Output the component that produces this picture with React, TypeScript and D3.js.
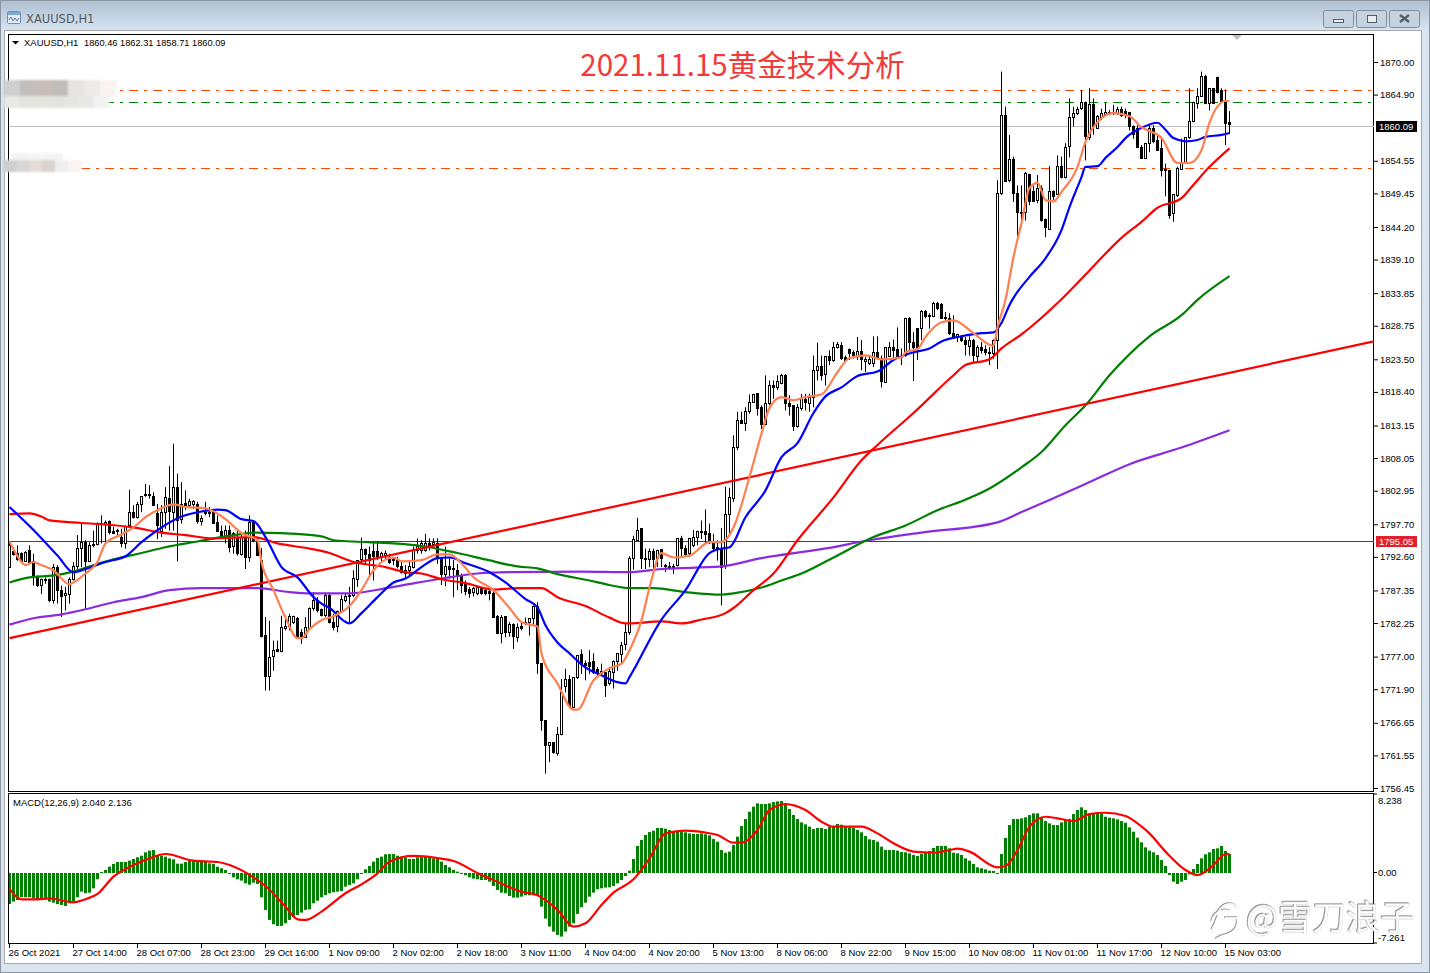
import { useEffect, useRef } from 'react';
import * as d3 from 'd3';

// [open, high, low, close], one row per H1 bar
const barsOct26 = [
  [1790.9,1794.9,1790.9,1794.4],[1793.5,1794.1,1792.8,1793.1],[1793.1,1794.4,1792.0,1792.1],[1793.2,1793.3,1791.8,1792.0],
  [1791.9,1793.5,1791.8,1793.3],[1793.6,1794.4,1791.5,1791.8],[1791.8,1793.1,1788.1,1789.4],[1789.4,1789.7,1787.9,1788.1],
  [1788.2,1789.2,1786.8,1789.1],[1789.0,1789.4,1788.4,1788.9],[1789.1,1789.2,1785.5,1785.8],[1785.8,1791.5,1785.3,1790.9],
  [1790.9,1791.3,1785.3,1787.3],[1787.4,1788.1,1783.2,1786.4],[1786.5,1787.9,1784.2,1786.8],[1786.8,1789.4,1785.3,1789.1],
  [1789.0,1791.8,1788.9,1791.1],[1791.1,1796.0,1790.7,1793.9],[1793.9,1798.0,1791.0,1794.9],[1794.9,1795.2,1784.5,1791.9],
  [1791.9,1794.9,1791.8,1794.4],[1794.4,1796.7,1794.1,1794.6],[1794.5,1798.0,1794.4,1797.8],[1797.8,1799.1,1794.7,1797.7],
  [1797.7,1798.3,1794.9,1798.0],[1798.2,1798.3,1796.1,1796.5],[1796.6,1797.3,1796.2,1796.3],[1796.7,1797.0,1796.0,1796.5],
  [1795.6,1797.0,1794.1,1794.7],[1794.7,1797.5,1793.9,1797.3],[1797.5,1803.1,1797.3,1799.5],[1799.5,1800.7,1798.6,1798.7],
  [1798.7,1801.2,1798.6,1800.8],[1800.8,1802.1,1799.6,1802.1],[1802.1,1804.0,1802.0,1802.3],[1802.3,1803.8,1801.7,1802.1],
  [1802.1,1802.7,1800.7,1800.7],[1799.4,1800.9,1795.4,1797.5],[1796.7,1800.7,1795.7,1799.6],[1799.6,1803.5,1797.0,1801.9],
];
const barsOct28 = [
  [1801.7,1806.8,1796.7,1799.6],[1799.6,1810.3,1796.7,1803.5],[1803.5,1805.6,1791.9,1798.3],[1798.4,1804.3,1797.8,1800.8],
  [1801.0,1803.0,1799.9,1800.7],[1800.7,1801.7,1800.4,1801.3],[1800.8,1801.5,1800.1,1801.3],[1800.8,1801.2,1797.8,1798.2],
  [1798.2,1799.1,1797.5,1798.6],[1799.6,1801.2,1799.1,1799.5],[1799.6,1800.4,1798.8,1799.5],[1799.6,1800.1,1797.8,1797.9],
  [1798.0,1799.1,1796.5,1796.6],[1796.6,1797.5,1795.7,1796.0],[1795.7,1797.5,1794.7,1796.8],[1796.8,1797.5,1793.3,1794.1],
  [1794.1,1796.5,1793.1,1796.2],[1795.7,1797.0,1792.8,1793.2],[1793.1,1796.2,1792.8,1795.7],[1795.7,1796.7,1790.7,1792.6],
  [1792.5,1799.1,1791.8,1798.0],[1798.0,1798.3,1794.9,1795.2],[1794.9,1795.7,1792.7,1792.8],[1792.0,1794.0,1780.0,1780.1],
  [1780.3,1783.2,1771.7,1773.9],[1773.9,1782.6,1771.7,1776.9],[1776.9,1779.5,1774.8,1777.9],[1778.1,1779.5,1777.7,1777.8],
  [1777.8,1783.4,1777.7,1781.5],[1781.4,1783.4,1781.1,1781.7],[1781.6,1783.7,1781.1,1783.2],[1782.4,1783.4,1782.1,1783.3],
  [1782.9,1783.2,1779.8,1779.8],[1780.8,1781.3,1779.0,1779.8],[1779.9,1783.2,1779.9,1781.5],[1781.3,1784.7,1781.3,1784.5],
  [1784.5,1787.1,1784.2,1785.8],[1785.8,1786.3,1783.9,1784.2],[1784.4,1784.5,1783.3,1783.5],[1783.5,1786.8,1783.2,1786.6],
];
const barsNov1 = [
  [1786.6,1786.8,1782.2,1782.3],[1782.4,1783.7,1781.1,1781.6],[1781.6,1784.2,1780.8,1784.0],[1784.0,1786.6,1784.0,1785.9],
  [1785.8,1786.8,1785.5,1786.4],[1786.4,1787.9,1782.4,1786.6],[1786.6,1790.5,1786.3,1789.2],[1789.2,1792.1,1787.9,1792.1],
  [1792.1,1795.6,1791.5,1793.7],[1793.7,1793.9,1791.5,1792.9],[1793.0,1794.2,1789.7,1792.1],[1793.4,1794.8,1788.9,1792.6],
  [1793.5,1794.8,1792.1,1792.5],[1792.5,1793.4,1791.8,1793.1],[1792.9,1793.6,1792.1,1793.2],[1792.2,1793.1,1791.5,1791.7],
  [1792.2,1792.6,1791.3,1792.0],[1792.1,1792.6,1790.8,1791.1],[1791.1,1791.8,1790.0,1790.1],[1790.0,1791.3,1789.2,1790.5],
  [1790.5,1791.8,1789.7,1791.1],[1790.9,1794.2,1790.8,1793.6],[1793.5,1795.5,1793.1,1794.2],[1793.6,1795.2,1793.1,1794.7],
  [1793.6,1796.2,1793.4,1794.7],[1794.7,1795.5,1793.6,1794.4],[1794.5,1795.5,1794.2,1794.8],[1794.7,1795.5,1791.5,1792.3],
  [1792.3,1792.6,1788.2,1789.8],[1789.9,1794.2,1788.0,1791.1],[1791.1,1792.6,1789.2,1790.6],[1790.8,1792.1,1786.3,1790.6],
  [1790.5,1791.5,1787.4,1789.6],[1789.6,1790.0,1786.9,1788.2],[1788.3,1788.9,1786.6,1787.2],[1787.5,1787.9,1786.2,1786.9],
  [1786.9,1787.9,1786.4,1787.6],[1786.9,1787.9,1786.6,1787.8],[1787.8,1787.9,1786.7,1786.9],[1787.4,1787.6,1786.6,1786.9],
];
const barsNov3 = [
  [1787.2,1787.4,1785.8,1786.9],[1786.9,1787.2,1783.1,1783.2],[1783.2,1783.5,1780.5,1780.5],[1780.6,1783.5,1779.1,1783.1],
  [1783.2,1783.2,1780.0,1780.7],[1780.8,1782.4,1780.1,1782.0],[1782.0,1782.2,1778.2,1780.1],[1780.1,1782.2,1779.3,1781.6],
  [1781.7,1782.4,1781.1,1781.4],[1782.4,1783.1,1781.9,1782.2],[1782.2,1782.9,1780.3,1782.9],[1782.9,1785.0,1781.9,1784.8],
  [1784.8,1785.5,1774.3,1775.9],[1775.9,1775.9,1765.4,1767.0],[1767.0,1767.0,1758.7,1763.1],[1763.1,1763.6,1760.5,1763.5],
  [1763.5,1763.6,1761.8,1761.9],[1761.9,1766.0,1761.5,1764.8],[1764.8,1773.5,1764.7,1771.4],[1772.3,1775.1,1771.4,1773.4],
  [1773.4,1774.1,1769.0,1769.1],[1769.1,1773.8,1769.0,1773.8],[1773.7,1777.2,1773.5,1777.2],[1777.4,1778.1,1774.3,1775.9],
  [1775.9,1776.4,1773.3,1775.6],[1776.1,1778.0,1774.3,1775.4],[1776.3,1777.5,1774.3,1774.6],[1775.0,1775.4,1773.8,1774.4],
  [1774.3,1775.9,1774.1,1774.6],[1774.5,1774.6,1770.7,1772.5],[1772.7,1775.4,1772.5,1774.6],[1774.6,1776.4,1772.0,1776.3],
  [1776.2,1777.5,1774.8,1777.5],[1777.4,1779.3,1775.9,1778.8],[1778.8,1782.2,1778.0,1780.7],[1780.7,1792.7,1780.4,1792.3],
  [1792.3,1795.9,1790.6,1795.3],[1795.3,1798.7,1795.2,1796.8],[1797.0,1797.0,1790.7,1792.3],[1792.3,1793.9,1790.7,1792.1],
];
const barsNov4 = [
  [1792.3,1793.9,1791.0,1793.5],[1793.5,1793.9,1790.7,1792.3],[1792.3,1793.7,1791.0,1793.6],[1793.7,1793.7,1791.0,1792.3],
  [1791.2,1791.5,1790.2,1791.1],[1791.1,1791.8,1790.6,1791.0],[1791.1,1791.5,1789.9,1791.0],[1791.2,1795.4,1791.1,1795.4],
  [1795.4,1795.9,1792.6,1793.9],[1793.9,1794.4,1792.6,1793.0],[1793.0,1795.6,1792.6,1795.4],[1794.4,1796.8,1794.1,1795.7],
  [1795.7,1796.7,1794.4,1796.6],[1796.6,1798.3,1795.4,1796.5],[1796.6,1800.0,1794.6,1796.2],[1796.2,1797.8,1794.6,1794.9],
  [1794.9,1796.2,1793.6,1794.0],[1794.1,1795.2,1792.0,1793.8],[1793.9,1797.1,1785.0,1791.0],[1791.0,1803.6,1790.7,1799.2],
  [1799.2,1803.4,1795.9,1801.9],[1801.7,1811.6,1801.2,1809.7],[1809.7,1815.3,1809.3,1814.0],[1814.0,1815.3,1813.4,1813.6],
  [1813.6,1816.0,1812.3,1815.4],[1815.4,1818.0,1815.0,1816.8],[1816.8,1818.1,1816.7,1818.0],[1818.2,1818.2,1814.7,1815.8],
  [1815.9,1816.3,1812.6,1813.3],[1813.3,1821.0,1813.2,1816.6],[1816.6,1820.2,1816.3,1819.4],[1819.4,1820.2,1817.3,1819.1],
  [1819.1,1821.0,1818.7,1820.0],[1819.8,1821.2,1819.6,1821.0],[1821.0,1821.2,1815.5,1816.6],[1816.6,1817.9,1814.7,1816.2],
  [1816.3,1816.3,1812.3,1813.0],[1813.0,1816.5,1812.8,1815.9],[1815.8,1818.1,1815.5,1817.4],[1817.2,1818.1,1815.5,1816.7],
];
const barsNov8 = [
  [1816.7,1818.1,1815.3,1817.6],[1817.6,1824.1,1816.0,1821.8],[1821.7,1826.1,1820.2,1822.4],[1822.4,1824.1,1820.2,1821.0],
  [1821.2,1824.0,1819.4,1824.0],[1823.9,1824.9,1822.6,1823.3],[1823.4,1826.2,1823.1,1825.4],[1825.4,1826.2,1825.2,1825.8],
  [1825.7,1826.2,1823.4,1823.6],[1823.8,1824.1,1823.4,1823.4],[1825.0,1825.2,1823.4,1824.3],[1824.5,1824.9,1823.6,1824.0],
  [1824.1,1827.0,1823.4,1824.7],[1824.7,1826.5,1821.8,1823.4],[1823.1,1823.9,1821.5,1823.4],[1822.8,1823.9,1822.6,1823.4],
  [1822.8,1827.1,1822.3,1824.5],[1824.5,1827.1,1823.6,1823.6],[1823.6,1824.1,1819.1,1820.0],[1820.0,1825.4,1820.0,1825.4],
  [1824.0,1826.2,1824.0,1825.4],[1825.4,1826.6,1823.6,1824.9],[1825.0,1828.5,1823.8,1823.8],[1823.9,1825.2,1822.6,1823.8],
  [1824.1,1830.0,1823.9,1829.9],[1829.9,1830.1,1824.9,1826.2],[1826.2,1827.8,1820.1,1825.4],[1828.3,1828.3,1823.4,1825.4],
  [1828.2,1831.2,1826.5,1830.9],[1830.9,1831.2,1829.9,1830.1],[1830.3,1830.7,1828.3,1830.1],[1830.3,1832.5,1830.1,1832.3],
  [1832.2,1832.5,1831.2,1831.4],[1832.1,1832.3,1829.9,1829.9],[1830.1,1830.9,1829.6,1829.9],[1829.9,1830.7,1827.3,1827.5],
  [1827.5,1830.4,1827.0,1827.1],[1827.1,1827.5,1826.2,1827.4],[1826.9,1827.3,1826.2,1826.4],[1826.4,1827.0,1824.1,1825.7],
];
const barsNov10 = [
  [1825.5,1827.1,1824.1,1826.4],[1826.4,1826.7,1822.9,1824.0],[1824.0,1825.7,1823.1,1825.4],[1825.4,1826.2,1824.4,1824.9],
  [1825.0,1825.7,1824.1,1824.5],[1824.5,1825.4,1822.6,1824.3],[1824.4,1826.6,1823.6,1826.5],[1826.5,1851.5,1822.0,1849.5],
  [1849.5,1868.5,1849.2,1861.7],[1861.7,1863.0,1851.2,1851.4],[1851.4,1858.6,1851.2,1854.7],[1854.7,1855.2,1848.1,1849.4],
  [1849.4,1850.7,1841.9,1846.4],[1846.5,1850.7,1844.2,1846.4],[1846.4,1852.8,1845.2,1852.5],[1852.4,1852.5,1847.6,1848.1],
  [1849.8,1850.7,1848.1,1848.3],[1848.4,1852.3,1847.9,1850.2],[1850.2,1850.7,1845.0,1845.2],[1845.3,1845.5,1842.6,1844.0],
  [1843.9,1853.7,1843.7,1849.8],[1849.8,1849.9,1848.4,1849.0],[1849.2,1855.4,1849.2,1853.6],[1853.7,1855.2,1851.8,1852.0],
  [1852.0,1857.3,1851.8,1856.7],[1856.8,1864.3,1855.1,1861.3],[1861.3,1863.0,1859.9,1862.0],[1862.0,1863.0,1861.7,1862.6],
  [1862.6,1865.6,1862.5,1863.6],[1863.6,1863.8,1854.6,1858.3],[1858.2,1865.9,1857.8,1863.4],[1863.4,1864.3,1858.6,1859.9],
  [1859.6,1861.7,1859.6,1861.4],[1861.4,1862.7,1860.9,1862.0],[1861.8,1863.6,1861.7,1862.1],[1862.1,1862.5,1861.7,1862.0],
  [1862.1,1863.3,1861.7,1862.0],[1862.0,1863.0,1861.7,1862.6],[1862.6,1863.0,1861.4,1861.7],[1862.2,1862.7,1861.2,1861.5],
];
const barsNov12 = [
  [1862.1,1862.2,1859.3,1859.9],[1859.9,1860.1,1858.0,1858.7],[1859.6,1860.1,1856.6,1856.7],[1856.7,1857.0,1854.9,1855.0],
  [1855.0,1857.3,1854.9,1857.3],[1857.3,1860.1,1855.9,1859.6],[1859.6,1860.1,1857.3,1857.5],[1857.8,1858.6,1856.2,1856.3],
  [1856.5,1858.3,1852.1,1853.0],[1853.2,1854.1,1849.0,1853.0],[1853.0,1853.1,1845.5,1845.9],[1846.3,1849.2,1845.0,1849.2],
  [1849.0,1853.6,1848.9,1853.3],[1853.3,1858.0,1853.2,1854.2],[1854.2,1858.2,1854.1,1858.2],[1858.2,1865.9,1858.0,1860.7],
  [1860.7,1863.8,1860.6,1863.6],[1863.5,1865.9,1862.7,1864.6],[1864.6,1868.5,1864.6,1867.7],[1867.8,1868.0,1863.4,1863.5],
  [1863.5,1865.9,1862.4,1865.9],[1865.9,1865.9,1863.5,1863.6],[1867.6,1867.7,1865.1,1865.3],[1865.5,1865.9,1863.6,1863.8],
  [1863.8,1865.7,1857.0,1860.4],[1860.46,1862.31,1858.71,1860.09],
];
const bars = [...barsOct26, ...barsOct28, ...barsNov1, ...barsNov3, ...barsNov4, ...barsNov8, ...barsNov10, ...barsNov12];

// moving averages: [bar number, price]
const maFast = [
  [0,1795.0],[2,1792.7],[4,1791.3],[6,1791.8],[8,1791.3],[11,1790.5],[15,1788.3],[16,1788.6],[19,1790.0],[22,1791.8],[24,1794.7],[28,1796.1],
  [31,1797.2],[34,1798.8],[38,1800.2],[41,1800.8],[44,1800.4],[49,1800.2],[54,1798.5],[58,1796.3],[62,1795.2],[63,1791.8],[66,1787.4],[69,1783.1],
  [72,1779.9],[73,1779.9],[75,1781.3],[78,1782.7],[81,1783.3],[85,1784.9],[88,1787.4],[91,1790.5],[96,1792.5],[98,1791.9],[103,1792.1],[107,1793.0],
  [110,1793.0],[113,1791.6],[116,1789.4],[121,1787.4],[125,1784.6],[128,1782.4],[132,1781.7],[133,1777.5],[137,1772.8],[141,1768.7],[142,1768.7],
  [146,1773.3],[148,1774.4],[150,1775.2],[153,1775.9],[155,1778.0],[158,1782.7],[160,1787.8],[163,1793.2],[166,1792.5],[170,1792.8],[175,1794.9],
  [178,1794.9],[181,1797.2],[185,1805.1],[188,1811.9],[190,1815.9],[193,1817.6],[196,1817.1],[199,1817.6],[203,1818.0],[207,1821.5],[210,1823.7],
  [214,1824.1],[218,1823.5],[223,1823.8],[224,1824.6],[227,1825.1],[229,1827.0],[233,1829.3],[236,1829.6],[241,1827.6],[246,1825.6],[247,1828.5],
  [249,1832.8],[251,1839.5],[253,1844.8],[255,1850.3],[257,1851.1],[259,1848.4],[261,1848.2],[263,1849.7],[267,1853.6],[269,1857.5],[273,1861.2],
  [276,1862.0],[280,1861.5],[283,1859.8],[288,1858.1],[292,1854.2],[295,1854.2],[298,1856.2],[300,1860.5],[304,1863.9],[305,1863.9],
];
const maBlue = [
  [0,1800.4],[6,1796.8],[12,1792.8],[16,1790.2],[19,1790.7],[24,1791.8],[29,1792.7],[33,1794.9],[38,1797.2],[43,1798.9],[48,1799.7],[52,1800.0],
  [54,1799.9],[58,1798.5],[61,1798.2],[64,1795.7],[68,1791.0],[72,1789.4],[76,1786.3],[78,1785.3],[80,1784.6],[85,1782.2],[88,1783.8],[92,1786.3],
  [96,1788.6],[99,1789.2],[103,1791.0],[107,1792.4],[110,1792.5],[114,1791.6],[120,1790.2],[124,1788.6],[129,1786.0],[132,1784.7],[134,1781.9],
  [137,1779.2],[140,1777.5],[144,1775.3],[148,1774.1],[152,1773.0],[154,1772.8],[155,1773.8],[163,1782.8],[169,1787.4],[175,1793.2],[178,1793.9],
  [180,1794.1],[184,1798.8],[189,1803.0],[193,1808.2],[197,1810.4],[201,1815.1],[204,1817.7],[208,1819.1],[212,1820.9],[217,1821.6],[221,1823.4],
  [226,1824.6],[230,1825.2],[233,1826.3],[238,1827.1],[243,1827.6],[246,1827.7],[248,1829.2],[250,1832.0],[251,1833.1],[255,1836.4],[259,1839.3],
  [263,1843.7],[265,1847.3],[268,1852.0],[269,1853.6],[272,1853.7],[274,1855.0],[277,1856.7],[279,1858.1],[283,1859.7],[287,1860.5],[289,1859.4],
  [291,1858.1],[294,1857.6],[297,1857.8],[299,1858.3],[303,1858.6],[305,1858.9],
];
const maRed = [
  [0,1799.3],[5,1799.4],[8,1798.9],[10,1798.3],[18,1797.9],[23,1797.7],[31,1797.2],[38,1796.4],[44,1796.0],[51,1795.5],[61,1795.7],[67,1794.7],
  [75,1793.9],[80,1793.2],[86,1791.8],[94,1791.0],[99,1790.2],[103,1790.0],[108,1789.1],[114,1788.5],[121,1787.5],[127,1787.7],[133,1787.7],
  [137,1786.3],[144,1784.9],[150,1783.1],[154,1782.2],[155,1782.2],[163,1782.5],[168,1782.2],[173,1782.8],[179,1783.8],[181,1784.6],[186,1787.4],
  [191,1790.0],[197,1795.2],[206,1801.9],[213,1807.7],[217,1810.1],[226,1815.1],[236,1821.0],[239,1822.6],[245,1823.5],[248,1825.2],[253,1827.4],
  [263,1832.9],[270,1837.4],[278,1842.5],[283,1845.0],[287,1847.2],[293,1848.7],[296,1850.8],[300,1853.6],[305,1856.5],
];
const maGreen = [
  [0,1788.6],[5,1789.4],[11,1789.7],[16,1790.3],[21,1791.3],[26,1792.2],[33,1793.2],[39,1794.1],[47,1795.0],[54,1795.8],[62,1796.4],[68,1796.3],
  [78,1795.8],[81,1795.2],[86,1795.0],[96,1794.7],[103,1794.3],[112,1793.2],[119,1792.2],[127,1791.1],[132,1790.8],[137,1789.9],[145,1788.9],
  [150,1788.2],[155,1787.7],[161,1787.7],[169,1787.1],[178,1786.7],[181,1786.9],[188,1787.8],[193,1788.9],[198,1790.0],[206,1792.5],[216,1795.7],
  [224,1797.5],[232,1799.9],[238,1801.3],[245,1803.3],[253,1806.6],[258,1809.0],[264,1813.2],[269,1816.3],[275,1821.0],[285,1827.1],[293,1830.4],
  [297,1832.8],[305,1836.5],
];
const maPurple = [
  [0,1782.0],[6,1783.0],[13,1783.6],[19,1784.4],[26,1785.5],[33,1786.3],[40,1787.4],[48,1787.7],[62,1787.7],[70,1787.1],[75,1786.9],[85,1786.9],
  [95,1787.8],[107,1789.1],[117,1790.0],[125,1790.2],[143,1790.3],[155,1790.2],[163,1790.7],[178,1791.1],[188,1792.4],[203,1793.8],[215,1795.2],
  [228,1796.4],[247,1798.0],[253,1799.6],[260,1801.5],[269,1804.0],[280,1807.1],[293,1809.7],[305,1812.4],
];
const trendLine = [[0,1779.9],[341.1,1826.3]];

const levelOrange = [1865.6, 1853.4];
const levelGreen = [1863.7];
const lastPrice = 1860.09;
const markedPrice = 1795.05;

const priceTicks = [1870.00,1864.90,1854.55,1849.45,1844.20,1839.10,1833.85,1828.75,1823.50,1818.40,1813.15,1808.05,1802.95,1797.70,1792.60,1787.35,1782.25,1777.00,1771.90,1766.65,1761.55,1756.45];

// MACD histogram, one value per bar
const macdOct = [
  -3.50,-3.23,-3.05,-2.74,-2.74,-2.74,-2.86,-2.93,-2.86,-2.97,-3.23,-3.35,-3.50,-3.61,-3.72,-3.42,-3.23,-2.74,-2.11,-2.29,
  -2.22,-1.73,-0.71,0.11,0.34,0.71,1.02,1.24,1.24,1.24,1.39,1.58,1.77,1.95,2.33,2.52,2.59,2.03,1.95,1.84,
  1.65,1.54,1.05,1.05,1.24,1.39,1.39,1.28,1.24,1.24,1.09,1.02,0.71,0.53,0.34,-0.04,-0.49,-0.71,-0.86,-1.17,
  -1.32,-1.09,-1.24,-2.74,-4.17,-5.30,-5.79,-5.98,-5.98,-5.68,-5.30,-5.00,-4.74,-4.47,-4.17,-4.10,-3.42,-3.12,-2.74,-2.48,
];
const macdNovA = [
  -2.29,-2.18,-2.11,-2.03,-1.54,-1.35,-1.17,-0.71,-0.04,0.41,0.79,1.28,1.69,1.84,2.11,2.14,2.14,1.95,1.84,1.73,
  1.58,1.58,1.77,1.80,1.80,1.73,1.65,1.58,1.28,0.90,0.64,0.34,0.15,-0.11,-0.26,-0.49,-0.64,-0.71,-0.79,-0.79,
  -0.98,-1.47,-1.92,-2.22,-2.29,-2.59,-2.78,-2.78,-2.67,-2.52,-2.52,-2.52,-2.59,-3.80,-5.15,-6.05,-6.62,-6.99,-7.18,-6.62,
  -6.05,-5.68,-4.62,-3.87,-3.35,-2.67,-2.22,-1.84,-1.73,-1.65,-1.62,-1.47,-1.17,-0.79,-0.34,0.26,1.58,3.05,3.72,4.29,
];
const macdNovB = [
  4.62,4.77,5.08,5.08,5.00,4.85,4.70,4.62,4.62,4.59,4.47,4.40,4.40,4.47,4.36,4.25,3.83,3.53,2.59,2.29,
  2.41,3.16,4.10,5.30,6.09,6.92,7.48,7.86,7.78,7.78,7.86,8.01,8.08,8.12,7.86,7.22,6.54,6.09,5.71,5.49,
  5.23,4.96,5.08,5.08,4.96,5.23,5.30,5.53,5.45,5.23,5.15,5.11,4.85,4.59,4.17,3.80,3.72,3.53,2.97,2.59,
  2.59,2.59,2.52,2.37,2.33,2.22,2.03,1.92,2.14,2.29,2.48,2.82,3.05,3.05,3.05,2.78,2.29,2.22,2.03,1.65,
];
const macdNovC = [
  1.39,1.02,0.64,0.53,0.41,0.26,0.23,-0.08,2.14,3.95,5.41,6.09,6.09,6.17,6.28,6.54,6.73,6.73,6.28,5.86,
  5.60,5.41,5.41,5.71,5.98,6.09,6.65,7.11,7.41,7.11,6.73,6.73,6.73,6.65,6.35,6.24,6.17,6.05,5.86,5.68,
  5.15,4.66,3.98,3.46,2.89,2.52,2.33,2.03,1.47,0.79,-0.23,-0.98,-1.24,-0.98,-0.79,-0.15,0.45,1.02,1.65,2.11,
  2.33,2.71,2.78,3.05,2.48,2.14,
];
const macdHist = [...macdOct, ...macdNovA, ...macdNovB, ...macdNovC];
// signal line: [bar number, value]
const macdSignal = [
  [0,-1.80],[3,-2.97],[7,-2.97],[10,-2.86],[16,-3.31],[19,-2.97],[22,-2.37],[26,-0.41],[31,0.90],[35,1.65],[39,2.14],[46,1.39],[52,1.24],[55,0.90],
  [61,-0.49],[64,-1.47],[69,-3.80],[72,-5.23],[74,-5.30],[78,-4.36],[84,-2.29],[88,-1.28],[92,-0.04],[95,1.28],[101,1.92],[107,1.69],[111,1.35],
  [118,-0.23],[120,-0.60],[128,-2.11],[132,-2.52],[137,-4.17],[141,-6.05],[144,-5.68],[148,-3.61],[151,-2.22],[156,-0.71],[160,1.65],[164,4.47],
  [169,4.77],[174,4.55],[177,4.29],[181,3.42],[183,3.42],[187,4.85],[190,7.11],[194,7.78],[199,7.11],[203,5.79],[206,5.23],[213,5.23],[217,4.47],
  [221,3.35],[226,2.41],[231,2.29],[235,2.59],[237,2.74],[240,2.41],[247,0.64],[249,0.79],[252,2.59],[255,5.23],[259,6.35],[262,6.17],[266,5.86],
  [270,6.65],[274,6.80],[279,6.43],[282,5.60],[285,4.47],[289,2.41],[294,0.34],[297,-0.23],[301,0.90],[304,2.14],[305,2.14],
];

const dateLabels = ['26 Oct 2021','27 Oct 14:00','28 Oct 07:00','28 Oct 23:00','29 Oct 16:00','1 Nov 09:00','2 Nov 02:00','2 Nov 18:00','3 Nov 11:00','4 Nov 04:00','4 Nov 20:00','5 Nov 13:00','8 Nov 06:00','8 Nov 22:00','9 Nov 15:00','10 Nov 08:00','11 Nov 01:00','11 Nov 17:00','12 Nov 10:00','15 Nov 03:00'];

const smudgeTop = ['#cfcfcf','#c3bebe','#c9bdb8','#c1bdbd','#e8e4e2','#eeeae8','#fbf3f0'];
const smudgeLow = ['#e6e9e6','#e0e5e0','#e1e6e0','#dfe4df','#e3e6e3','#e6e9e5','#f0f3ef'];
const smudgeTwoTop = ['#f2f3f3','#f4f5f5','#f3f4f4'];
const smudgeTwoLow = ['#cfcfcf','#d9d6d5','#e4dcd8','#d9d3d1','#eeeeee','#fbf3f0'];

const FONT = '"Liberation Sans", sans-serif';

const App = () => {
  const chartRef = useRef<SVGSVGElement>(null);

  useEffect(() => {
    if (!chartRef.current) return;
    const svg = d3.select(chartRef.current);
    svg.selectAll('*').remove();

    const width = 1430;
    const height = 973;
    svg.attr('width', width).attr('height', height);

    const defs = svg.append('defs');
    const grad = defs.append('linearGradient').attr('id', 'titleBar').attr('x1', 0).attr('x2', 0).attr('y1', 0).attr('y2', 1);
    grad.append('stop').attr('offset', '0%').attr('stop-color', '#aebfd1');
    grad.append('stop').attr('offset', '100%').attr('stop-color', '#d6e4f1');
    defs.append('filter').attr('id', 'blur').append('feGaussianBlur').attr('stdDeviation', 1.2);
    defs.append('filter').attr('id', 'emboss').append('feDropShadow')
      .attr('dx', -0.7).attr('dy', -0.7).attr('stdDeviation', 0.1).attr('flood-color', '#6a6a6a');
    defs.append('clipPath').attr('id', 'mainClip').append('rect').attr('x', 9).attr('y', 35).attr('width', 1365).attr('height', 756);
    defs.append('clipPath').attr('id', 'macdClip').append('rect').attr('x', 9).attr('y', 794).attr('width', 1365).attr('height', 149);

    // window chrome
    svg.append('rect').attr('width', width).attr('height', height).attr('fill', '#d8e5f1');
    svg.append('rect').attr('width', width).attr('height', 30).attr('fill', 'url(#titleBar)');
    svg.append('rect').attr('x', 0.5).attr('y', 0.5).attr('width', width - 1).attr('height', height - 1).attr('fill', 'none').attr('stroke', '#8b96a2');
    svg.append('rect').attr('x', 4.5).attr('y', 30.5).attr('width', 1417).attr('height', 933).attr('fill', '#fff').attr('stroke', '#a9a9a9');

    // title icon and caption
    svg.append('rect').attr('x', 7.5).attr('y', 11.5).attr('width', 13).attr('height', 12).attr('rx', 1).attr('fill', '#e3ecf6').attr('stroke', '#6d8fb4');
    svg.append('rect').attr('x', 8).attr('y', 12).attr('width', 12).attr('height', 3).attr('fill', '#7fa6cf');
    svg.append('path').attr('d', 'M9 20 L11 17 L13 21 L15 18 L17 21 L19 18').attr('fill', 'none').attr('stroke', '#5a7fa8');
    svg.append('text').attr('x', 26).attr('y', 23).attr('font-family', '"DejaVu Sans", sans-serif').attr('font-size', 11.5).attr('fill', '#4f5a66').text('XAUUSD,H1');

    // window buttons
    const btnG = svg.append('g');
    [1323.5, 1356.5, 1389.5].forEach((bx) => {
      btnG.append('rect').attr('x', bx).attr('y', 10.5).attr('width', 30).attr('height', 17).attr('rx', 2).attr('fill', '#c5d3e1').attr('stroke', '#7e8ea0');
    });
    btnG.append('rect').attr('x', 1333.5).attr('y', 19.5).attr('width', 10).attr('height', 3).attr('fill', '#e8edf2').attr('stroke', '#56606b');
    btnG.append('rect').attr('x', 1367.5).attr('y', 15.5).attr('width', 9).attr('height', 7).attr('fill', '#e8edf2').attr('stroke', '#56606b');
    btnG.append('path').attr('d', 'M1400 15 L1409 22 M1409 15 L1400 22').attr('stroke', '#56606b').attr('stroke-width', 2.4);

    // panes
    svg.append('rect').attr('x', 8.5).attr('y', 34.5).attr('width', 1365).attr('height', 757).attr('fill', '#fff').attr('stroke', '#000');
    svg.append('rect').attr('x', 8.5).attr('y', 793.5).attr('width', 1365).attr('height', 150).attr('fill', '#fff').attr('stroke', '#000');

    const xBar = d3.scaleLinear().domain([0, 305]).range([9.5, 1229.5]);
    const yPrice = d3.scaleLinear().domain([1756.45, 1870]).range([788, 62]);
    const yMacd = d3.scaleLinear().domain([-7.261, 8.238]).range([937.3, 800]);

    const main = svg.append('g').attr('clip-path', 'url(#mainClip)');
    const crisp = (v: number) => Math.round(v - 0.5) + 0.5;
    const lastY = crisp(yPrice(lastPrice) + 1);

    // horizontal levels
    levelOrange.forEach((p) => {
      main.append('line').attr('x1', 9).attr('x2', 1374).attr('y1', crisp(yPrice(p))).attr('y2', crisp(yPrice(p)))
        .attr('stroke', '#ff4500').attr('stroke-dasharray', '9 6 3 6');
    });
    levelGreen.forEach((p) => {
      main.append('line').attr('x1', 9).attr('x2', 1374).attr('y1', crisp(yPrice(p))).attr('y2', crisp(yPrice(p)))
        .attr('stroke', '#008000').attr('stroke-dasharray', '9 6 3 6');
    });
    main.append('line').attr('x1', 9).attr('x2', 1374).attr('y1', lastY).attr('y2', lastY).attr('stroke', '#c0c0c0');
    main.append('line').attr('x1', 9).attr('x2', 1374).attr('y1', crisp(yPrice(markedPrice))).attr('y2', crisp(yPrice(markedPrice))).attr('stroke', '#e0000a');

    // candles
    const candles = main.append('g').selectAll('g').data(bars).enter().append('g');
    candles.append('line')
      .attr('x1', (_, i) => xBar(i)).attr('x2', (_, i) => xBar(i))
      .attr('y1', (d) => yPrice(d[1])).attr('y2', (d) => yPrice(d[2]))
      .attr('stroke', '#000');
    candles.append('rect')
      .attr('x', (_, i) => xBar(i) - 1).attr('width', 2)
      .attr('y', (d) => crisp(yPrice(Math.max(d[0], d[3]))))
      .attr('height', (d) => Math.max(1, Math.round(Math.abs(yPrice(d[0]) - yPrice(d[3])))))
      .attr('fill', (d) => (d[3] >= d[0] ? '#fff' : '#000'))
      .attr('stroke', '#000');

    // averages and the trend line
    const priceLine = d3.line<number[]>().x((d) => xBar(d[0])).y((d) => yPrice(d[1])).curve(d3.curveMonotoneX);
    const series: [number[][], string][] = [
      [maPurple, '#8a2be2'], [maGreen, '#008000'], [maRed, '#ff0000'], [trendLine, '#ff0000'], [maBlue, '#0000ff'], [maFast, '#ff7f50'],
    ];
    series.forEach(([pts, color]) => {
      main.append('path').attr('d', priceLine(pts)).attr('fill', 'none').attr('stroke', color).attr('stroke-width', 2.2);
    });

    // blurred out labels
    const smudge = svg.append('g').attr('filter', 'url(#blur)');
    smudgeTop.forEach((c, i) => smudge.append('rect').attr('x', 4 + i * 16).attr('y', 80).attr('width', 16.5).attr('height', 16.5).attr('fill', c));
    smudgeLow.forEach((c, i) => smudge.append('rect').attr('x', 4 + i * 15).attr('y', 96).attr('width', 15.5).attr('height', 12).attr('fill', c));
    smudgeTwoTop.forEach((c, i) => smudge.append('rect').attr('x', 11 + i * 17).attr('y', 153).attr('width', 17.5).attr('height', 7.5).attr('fill', c));
    smudgeTwoLow.forEach((c, i) => smudge.append('rect').attr('x', 3 + i * 13).attr('y', 160).attr('width', 13.5).attr('height', 12).attr('fill', c));

    // price axis
    const axisG = svg.append('g').attr('transform', 'translate(1374,0)')
      .call(d3.axisRight(yPrice).tickValues(priceTicks).tickFormat((d) => d3.format('.2f')(d as number)).tickSize(4).tickPadding(2));
    axisG.select('.domain').remove();
    axisG.selectAll('text').attr('font-family', FONT).attr('font-size', 9.5).attr('fill', '#000');

    const priceTag = (yy: number, p: number, fill: string) => {
      svg.append('rect').attr('x', 1376).attr('y', yy - 5.5).attr('width', 41).attr('height', 11).attr('fill', fill);
      svg.append('text').attr('x', 1379).attr('y', yy + 3.5).attr('font-family', FONT).attr('font-size', 9.5).attr('fill', '#fff').text(d3.format('.2f')(p));
    };
    priceTag(lastY, lastPrice, '#000');
    priceTag(crisp(yPrice(markedPrice)), markedPrice, '#e0202a');

    // header texts
    svg.append('path').attr('d', 'M12 41 L19 41 L15.5 44.5 Z').attr('fill', '#000');
    svg.append('text').attr('x', 24).attr('y', 46).attr('font-family', FONT).attr('font-size', 9.5).attr('fill', '#000').text('XAUUSD,H1');
    svg.append('text').attr('x', 84).attr('y', 46).attr('font-family', FONT).attr('font-size', 9.25).attr('fill', '#000')
      .text(bars[305].map((v) => v.toFixed(2)).join(' '));
    svg.append('path').attr('d', 'M1232 35 L1242 35 L1237 40 Z').attr('fill', '#c0c0c0');
    svg.append('text').attr('x', 742.5).attr('y', 76).attr('text-anchor', 'middle')
      .attr('font-family', '"Noto Sans CJK SC", sans-serif').attr('font-size', 29.5).attr('fill', '#f23a3a').text('2021.11.15黄金技术分析');

    // MACD pane
    const macdG = svg.append('g').attr('clip-path', 'url(#macdClip)');
    macdG.selectAll('rect.hist').data(macdHist).enter().append('rect').attr('class', 'hist')
      .attr('x', (_, i) => xBar(i) - 1.5).attr('width', 3)
      .attr('y', (d) => Math.min(yMacd(d), yMacd(0)))
      .attr('height', (d) => Math.max(1, Math.abs(yMacd(d) - yMacd(0))))
      .attr('fill', '#008000');
    const signalLine = d3.line<number[]>().x((d) => xBar(d[0])).y((d) => yMacd(d[1])).curve(d3.curveMonotoneX);
    macdG.append('path').attr('d', signalLine(macdSignal)).attr('fill', 'none').attr('stroke', '#ff0000').attr('stroke-width', 2.2);

    svg.append('text').attr('x', 13).attr('y', 806).attr('font-family', FONT).attr('font-size', 9.5).attr('fill', '#000').text('MACD(12,26,9) 2.040 2.136');
    const macdLabels: [string, number][] = [['8.238', 8.238], ['0.00', 0], ['-7.261', -7.261]];
    macdLabels.forEach(([t, v]) => {
      svg.append('text').attr('x', 1378).attr('y', yMacd(v) + 3.5).attr('font-family', FONT).attr('font-size', 9.5).attr('fill', '#000').text(t);
    });
    svg.append('line').attr('x1', 1374).attr('x2', 1377).attr('y1', crisp(yMacd(0))).attr('y2', crisp(yMacd(0))).attr('stroke', '#000');
    svg.append('line').attr('x1', 1374).attr('x2', 1377).attr('y1', 794).attr('y2', 794).attr('stroke', '#000');
    svg.append('line').attr('x1', 1374).attr('x2', 1377).attr('y1', 943).attr('y2', 943).attr('stroke', '#000');

    // time axis
    const timeAxis = svg.append('g');
    dateLabels.forEach((t, i) => {
      const tx = xBar(i * 16);
      timeAxis.append('line').attr('x1', tx).attr('x2', tx).attr('y1', 944).attr('y2', 948).attr('stroke', '#000');
      timeAxis.append('text').attr('x', tx - 1).attr('y', 956).attr('font-family', FONT).attr('font-size', 9.5).attr('fill', '#000').text(t);
    });

    // watermark, white with an embossed grey edge
    const wm = svg.append('g').attr('filter', 'url(#emboss)');
    wm.append('path')
      .attr('d', 'M1218 912 C1224 902 1234 902 1237 908 M1212 922 C1212 914 1222 908 1230 911 M1225 918 L1237 918 C1240 928 1232 934 1222 936 L1216 939 M1218 916 C1216 922 1214 926 1212 930')
      .attr('fill', 'none').attr('stroke', '#fff').attr('stroke-width', 1.4);
    wm.append('text').attr('x', 1246).attr('y', 930).attr('font-family', '"Noto Sans CJK SC", sans-serif').attr('font-size', 34)
      .attr('fill', '#fff').attr('stroke', '#d0d0d0').attr('stroke-width', 0.3).text('@雪刀浪子');
  }, []);

  return <svg ref={chartRef} style={{ position: 'absolute', left: 0, top: 0, display: 'block' }} />;
};

export default App;
